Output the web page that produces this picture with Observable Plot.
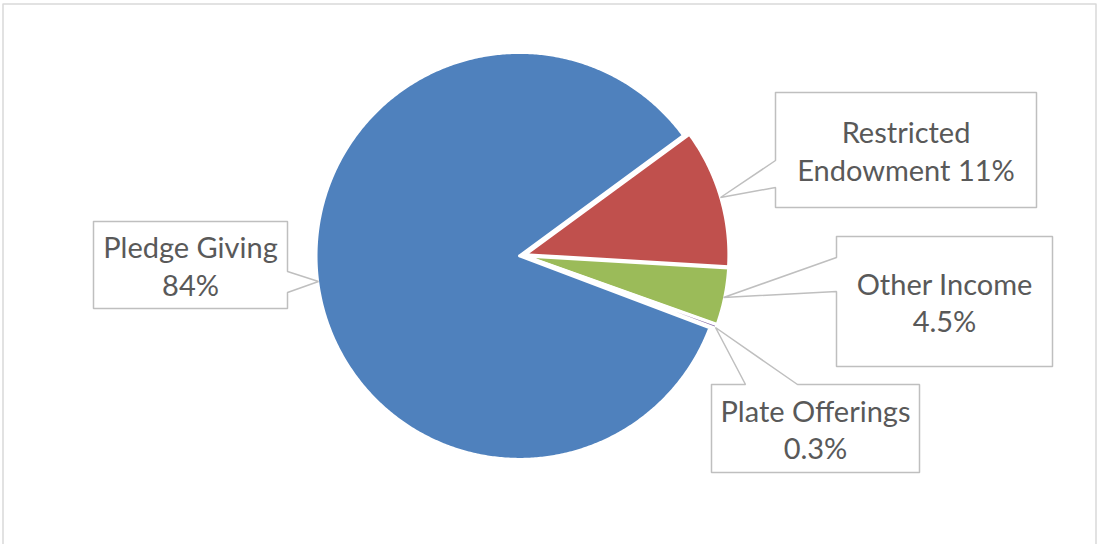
<!DOCTYPE html>
<html>
<head>
<meta charset="utf-8">
<script src="https://cdn.jsdelivr.net/npm/d3@7"></script>
<script src="https://cdn.jsdelivr.net/npm/@observablehq/plot@0.6"></script>
<style>
  html, body { margin: 0; padding: 0; background: #ffffff; }
  #chart svg { display: block; }
</style>
</head>
<body>
<div id="chart"></div>
<script>
// ---- Data ----
const categories = ["Pledge Giving", "Restricted Endowment", "Other Income", "Plate Offerings"];
const shares = [84, 11, 4.5, 0.3];
const shareLabels = ["84%", "11%", "4.5%", "0.3%"];
const labelLines = [["Pledge Giving", "84%"], ["Restricted", "Endowment 11%"], ["Other Income", "4.5%"], ["Plate Offerings", "0.3%"]];
const sliceColors = ["#4F81BD", "#C0504D", "#9BBB59", "#8064A2"];

// ---- Layout (pixels) ----
const W = 1098, H = 544;
const pie = {cx: 522, cy: 255, r: 203.5, explode: 3, startDeg: 110.7};
const callouts = [
  {box: [93, 221, 287, 308], side: "right", p: [271, 292], tip: [318, 281]},
  {box: [775, 92, 1036, 207], side: "left", p: [160, 187], tip: [720, 197]},
  {box: [836, 236, 1052, 366], side: "left", p: [257, 291], tip: [723, 297]},
  {box: [711, 384, 919, 472], side: "top", p: [745, 797], tip: [715, 327]}
];
const font = "Lato, 'Open Sans', sans-serif";
const fontSize = 29;

// ---- Slice geometry from the data ----
const arcs = d3.pie().sort(null)
  .startAngle(pie.startDeg * Math.PI / 180)
  .endAngle(pie.startDeg * Math.PI / 180 + 2 * Math.PI)(shares);

function slicePoints(a, i) {
  const mid = (a.startAngle + a.endAngle) / 2;
  const ox = pie.cx + pie.explode * Math.sin(mid);
  const oy = pie.cy - pie.explode * Math.cos(mid);
  const pts = [{x: ox, y: oy, k: categories[i]}];
  const n = Math.max(2, Math.ceil((a.endAngle - a.startAngle) / (Math.PI / 360)));
  for (let j = 0; j <= n; j++) {
    const t = a.startAngle + (a.endAngle - a.startAngle) * j / n;
    pts.push({x: ox + pie.r * Math.sin(t), y: oy - pie.r * Math.cos(t), k: categories[i]});
  }
  pts.push({x: ox, y: oy, k: categories[i]});
  return pts;
}

function calloutPoints(c) {
  const [x0, y0, x1, y1] = c.box;
  let pts;
  if (c.side === "right") {
    pts = [[x0, y0], [x1, y0], [x1, c.p[0]], c.tip, [x1, c.p[1]], [x1, y1], [x0, y1], [x0, y0]];
  } else if (c.side === "left") {
    pts = [[x0, y0], [x1, y0], [x1, y1], [x0, y1], [x0, c.p[1]], c.tip, [x0, c.p[0]], [x0, y0]];
  } else {
    pts = [[x0, y0], [c.p[0], y0], c.tip, [c.p[1], y0], [x1, y0], [x1, y1], [x0, y1], [x0, y0]];
  }
  return pts.map(([x, y]) => ({x, y}));
}

const marks = [];
// chart border (open at bottom)
marks.push(Plot.line([{x: 2.5, y: 560}, {x: 2.5, y: 3.5}, {x: 1095.5, y: 3.5}, {x: 1095.5, y: 560}],
  {x: "x", y: "y", stroke: "#D9D9D9", strokeWidth: 1.5}));

arcs.forEach((a, i) => {
  marks.push(Plot.line(slicePoints(a, i), {
    x: "x", y: "y", fill: sliceColors[i], stroke: "#ffffff", strokeWidth: 3,
    strokeLinejoin: "round", curve: "linear", title: "k"
  }));
});

callouts.forEach((c, i) => {
  marks.push(Plot.line(calloutPoints(c), {
    x: "x", y: "y", fill: "#ffffff", stroke: "#BFBFBF", strokeWidth: 1.5, strokeLinejoin: "miter"
  }));
  const [x0, y0, x1, y1] = c.box;
  marks.push(Plot.text([{x: (x0 + x1) / 2, y: (y0 + y1) / 2, t: labelLines[i].join("\n")}], {
    x: "x", y: "y", text: "t", fill: "#595959", fontSize, fontFamily: font,
    lineHeight: 1.3, textAnchor: "middle", lineAnchor: "middle"
  }));
});

const chart = Plot.plot({
  width: W, height: H,
  margin: 0,
  x: {domain: [0, W], range: [0, W], axis: null},
  y: {domain: [0, H], range: [0, H], axis: null},
  style: {background: "#ffffff"},
  marks
});
document.getElementById("chart").appendChild(chart);
</script>
</body>
</html>
